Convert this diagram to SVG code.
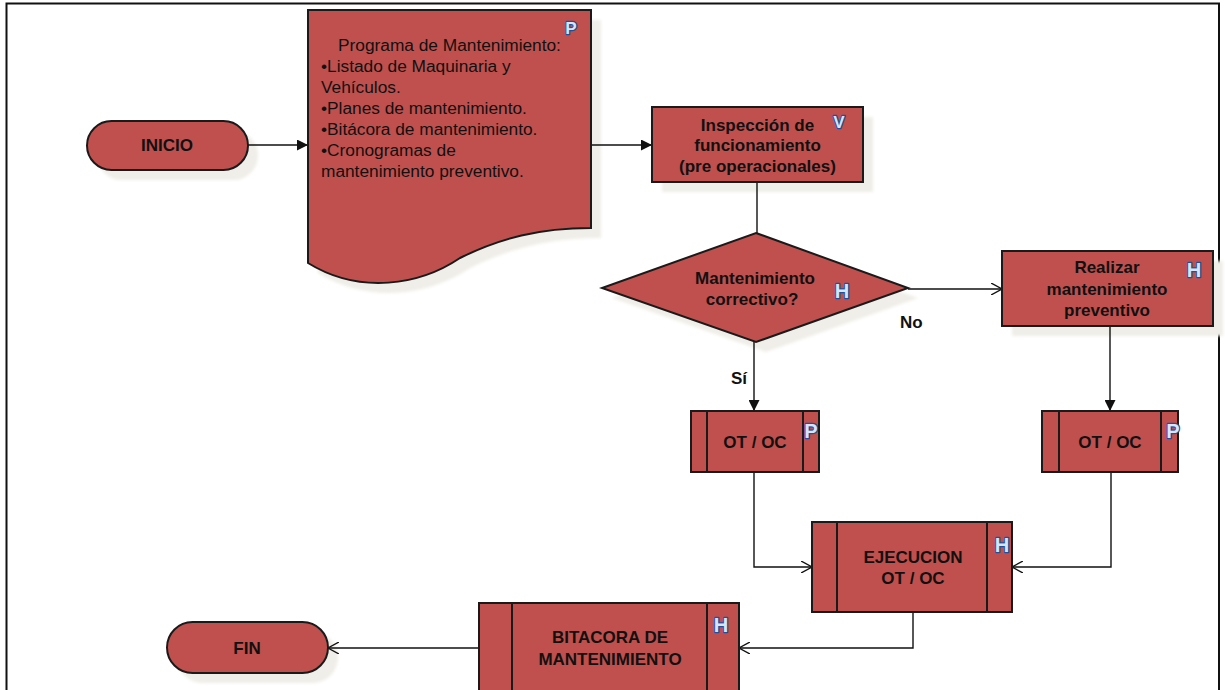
<svg xmlns="http://www.w3.org/2000/svg" width="1225" height="690" viewBox="0 0 1225 690">
<defs>
<style>
.shape{fill:#C0504D;stroke:#1a1a1a;stroke-width:2}
.sh{fill:#EFEEE8;stroke:none}
.inner{stroke:#1a1a1a;stroke-width:2;fill:none}
.t{font-family:"Liberation Sans",Arial,sans-serif;font-size:17px;font-weight:bold;fill:#111;text-anchor:middle}
.doc{font-family:"Liberation Sans",Arial,sans-serif;font-size:17.3px;fill:#111}
.ic{font-family:"Liberation Sans",Arial,sans-serif;font-size:20px;font-weight:bold;fill:#D6E5F8;stroke:#1F4F9E;stroke-width:2.4;paint-order:stroke fill;stroke-linejoin:round;text-anchor:middle}
.lbl{font-family:"Liberation Sans",Arial,sans-serif;font-size:17px;font-weight:bold;fill:#111}
.ln{fill:none;stroke:#111;stroke-width:1.4}
</style>
<marker id="fa" viewBox="0 0 10 10" refX="10" refY="5" markerWidth="11" markerHeight="11" markerUnits="userSpaceOnUse" orient="auto">
<path d="M0,0 L10,5 L0,10 Z" fill="#111"/>
</marker>
<marker id="oa" viewBox="0 0 12 12" refX="11" refY="6" markerWidth="12" markerHeight="12" markerUnits="userSpaceOnUse" orient="auto">
<path d="M0,0 L11,6 L0,12" fill="none" stroke="#111" stroke-width="1.4"/>
</marker>
<filter id="blur" x="-10%" y="-10%" width="120%" height="120%"><feGaussianBlur stdDeviation="1.5"/></filter>
</defs>
<rect x="0" y="0" width="1225" height="690" fill="#fff"/>
<rect x="6.5" y="3.5" width="1212.5" height="700" fill="none" stroke="#111" stroke-width="2"/>

<g id="shadows" filter="url(#blur)">
<rect class="sh" x="97" y="131" width="161" height="49" rx="24.5"/>
<path class="sh" d="M318,20 L601,20 L601,238 C550,238 510,248 470,268 C430,295 370,305 318,273 Z"/>
<rect class="sh" x="662" y="117" width="211" height="75"/>
<polygon class="sh" points="766,243 918,298 766,352 612,298"/>
<rect class="sh" x="1012" y="261" width="211" height="75"/>
<rect class="sh" x="177" y="632" width="161" height="51" rx="25.5"/>
</g>

<g id="connectors">
<line class="ln" x1="248" y1="145" x2="308" y2="145" marker-end="url(#fa)"/>
<line class="ln" x1="591" y1="145" x2="652" y2="145" marker-end="url(#fa)"/>
<line class="ln" x1="757" y1="182" x2="757" y2="233"/>
<line class="ln" x1="908" y1="289" x2="1002" y2="289" marker-end="url(#oa)"/>
<line class="ln" x1="754" y1="342" x2="754" y2="411" marker-end="url(#fa)"/>
<line class="ln" x1="1110" y1="326" x2="1110" y2="411" marker-end="url(#fa)"/>
<polyline class="ln" points="754,472 754,567 812,567" marker-end="url(#oa)"/>
<polyline class="ln" points="1111,472 1111,567 1012,567" marker-end="url(#oa)"/>
<polyline class="ln" points="913,612 913,648 739,648" marker-end="url(#oa)"/>
<line class="ln" x1="479" y1="648" x2="328" y2="648" marker-end="url(#oa)"/>
<text class="lbl" x="900" y="328">No</text>
<text class="lbl" x="731" y="384">Sí</text>
</g>

<g id="inicio">
<rect class="shape" x="87" y="121" width="161" height="49" rx="24.5"/>
<text class="t" x="167" y="151">INICIO</text>
</g>

<g id="programa">
<path class="shape" d="M308,10 L591,10 L591,228 C540,228 500,238 460,258 C420,285 360,295 308,263 Z"/>
<text class="doc" x="449.5" y="51" text-anchor="middle">Programa de Mantenimiento:</text>
<text class="doc" x="321" y="72">•Listado de Maquinaria y</text>
<text class="doc" x="321" y="93">Vehículos.</text>
<text class="doc" x="321" y="114">•Planes de mantenimiento.</text>
<text class="doc" x="321" y="135">•Bitácora de mantenimiento.</text>
<text class="doc" x="321" y="156">•Cronogramas de</text>
<text class="doc" x="321" y="177">mantenimiento preventivo.</text>
<text class="ic" x="571" y="34" style="font-size:17px">P</text>
</g>

<g id="inspeccion">
<rect class="shape" x="652" y="107" width="211" height="75"/>
<text class="t" x="757.5" y="131">Inspección de</text>
<text class="t" x="757.5" y="151">funcionamiento</text>
<text class="t" x="757.5" y="172">(pre operacionales)</text>
<text class="ic" x="839" y="128" style="font-size:17px">V</text>
</g>

<g id="decision">
<polygon class="shape" points="756,233 908,288 756,342 602,288"/>
<text class="t" x="755" y="284">Mantenimiento</text>
<text class="t" x="752" y="305">correctivo?</text>
<text class="ic" x="842" y="298">H</text>
</g>

<g id="realizar">
<rect class="shape" x="1002" y="251" width="211" height="75"/>
<text class="t" x="1107" y="273">Realizar</text>
<text class="t" x="1107" y="295">mantenimiento</text>
<text class="t" x="1107" y="316">preventivo</text>
<text class="ic" x="1194" y="277">H</text>
</g>

<g id="otoc1">
<rect class="shape" x="691" y="411" width="128" height="61"/>
<line class="inner" x1="707" y1="411" x2="707" y2="472"/>
<line class="inner" x1="803" y1="411" x2="803" y2="472"/>
<text class="t" x="755" y="448">OT / OC</text>
<text class="ic" x="811" y="438">P</text>
</g>

<g id="otoc2">
<rect class="shape" x="1042" y="411" width="136" height="61"/>
<line class="inner" x1="1059" y1="411" x2="1059" y2="472"/>
<line class="inner" x1="1161" y1="411" x2="1161" y2="472"/>
<text class="t" x="1110" y="448">OT / OC</text>
<text class="ic" x="1173" y="438">P</text>
</g>

<g id="ejecucion">
<rect class="shape" x="812" y="522" width="200" height="90"/>
<line class="inner" x1="837" y1="522" x2="837" y2="612"/>
<line class="inner" x1="987" y1="522" x2="987" y2="612"/>
<text class="t" x="913" y="563">EJECUCION</text>
<text class="t" x="913" y="584">OT / OC</text>
<text class="ic" x="1002" y="552">H</text>
</g>

<g id="bitacora">
<rect class="shape" x="479" y="603" width="260" height="100"/>
<line class="inner" x1="512" y1="603" x2="512" y2="703"/>
<line class="inner" x1="707" y1="603" x2="707" y2="703"/>
<text class="t" x="610" y="643">BITACORA DE</text>
<text class="t" x="610" y="665">MANTENIMIENTO</text>
<text class="ic" x="721" y="632">H</text>
</g>

<g id="fin">
<rect class="shape" x="167" y="622" width="161" height="51" rx="25.5"/>
<text class="t" x="247" y="654">FIN</text>
</g>
</svg>
